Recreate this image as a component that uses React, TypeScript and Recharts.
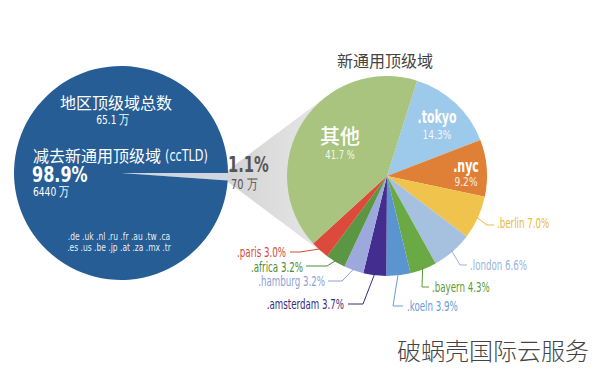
import React from 'react';
import { PieChart, Pie, Cell } from 'recharts';

// 地区顶级域 vs 新通用顶级域
const cctldNames = ['新通用顶级域', 'ccTLD'];
const cctldShares = [1.1, 98.9];
const cctldColors = ['#cfd6de', '#265d95'];

// 新通用顶级域 breakdown, clockwise from .tokyo
const gtldNames = ['.tokyo', '.nyc', '.berlin', '.london', '.bayern', '.koeln', '.amsterdam', '.hamburg', '.africa', '.paris', '其他'];
const gtldShares = [14.3, 9.2, 7.0, 6.6, 4.3, 3.9, 3.7, 3.2, 3.2, 3.0, 41.7];
const gtldColors = ['#9dc9ea', '#e07f36', '#f0c44c', '#a6c0e0', '#6aa943', '#5b95cf', '#432d8e', '#9da9dc', '#5b9643', '#db4a3b', '#a8c47e'];
const gtldLabelColors = ['#fff', '#fff', '#e8b93a', '#9ab5dd', '#5a9a35', '#6a9bd5', '#3a2a80', '#8e9ed6', '#4e8a37', '#d84838', '#fff'];

const domainLines = ['.de .uk .nl .ru .fr .au .tw .ca', '.es .us .be .jp .at .za .mx .tr'];

const W = 600;
const H = 369;
const LEFT = { cx: 121, cy: 173, r: 107 };
const RIGHT = { cx: 387, cy: 176, r: 100 };
const RADIAN = Math.PI / 180;
const FONT = '"DejaVu Sans Condensed", "DejaVu Sans", sans-serif';
const CJK = '"Noto Sans CJK SC", sans-serif';

const cctldData = cctldNames.map((name, i) => ({ name, value: cctldShares[i] }));
const gtldData = gtldNames.map((name, i) => ({ name, value: gtldShares[i] }));

// narrow text: the source uses a condensed face, squeeze horizontally
function NText({ x, y, size, fill, anchor = 'start', weight = 400, sx = 0.78, family = FONT, opacity = 1, children }: any) {
  return (
    <text
      transform={`translate(${x} ${y}) scale(${sx} 1)`}
      textAnchor={anchor}
      dominantBaseline="central"
      fontSize={size}
      fontWeight={weight}
      fill={fill}
      fillOpacity={opacity}
      fontFamily={family}
    >
      {children}
    </text>
  );
}

// label placement
const inside: Record<string, { x: number; y: number; sy: number; big: number; small: number }> = {
  '其他': { x: 340, y: 135, sy: 155, big: 20, small: 12 },
  '.tokyo': { x: 437, y: 117, sy: 135, big: 17, small: 13 },
  '.nyc': { x: 466, y: 166, sy: 182, big: 17, small: 13 },
};
const outside: Record<string, { elbow: [number, number]; end: [number, number]; tx: number; ty: number; anchor: 'start' | 'end' }> = {
  '.berlin': { elbow: [487, 225], end: [494, 225], tx: 497, ty: 223, anchor: 'start' },
  '.london': { elbow: [460, 265], end: [467, 265], tx: 470, ty: 265, anchor: 'start' },
  '.bayern': { elbow: [422, 287], end: [429, 287], tx: 432, ty: 287, anchor: 'start' },
  '.koeln': { elbow: [393, 306], end: [403, 306], tx: 407, ty: 306, anchor: 'start' },
  '.amsterdam': { elbow: [363, 304], end: [348, 304], tx: 344, ty: 304, anchor: 'end' },
  '.hamburg': { elbow: [342, 281], end: [328, 281], tx: 325, ty: 281, anchor: 'end' },
  '.africa': { elbow: [327, 266], end: [306, 266], tx: 303, ty: 267, anchor: 'end' },
  '.paris': { elbow: [300, 252], end: [290, 252], tx: 286, ty: 252, anchor: 'end' },
};

const pct = (v: number, name: string) => (name === '其他' ? `${v.toFixed(1)} %` : `${v.toFixed(1)}%`);

const renderGtldLabel = (props: any) => {
  const { cx, cy, midAngle, outerRadius, index } = props;
  const name = gtldNames[index];
  const value = gtldShares[index];
  const color = gtldLabelColors[index];
  const inn = inside[name];
  if (inn) {
    return (
      <g key={name}>
        {name === '其他' ? (
          <text x={inn.x} y={inn.y} fill="#fff" textAnchor="middle" dominantBaseline="central" fontSize={inn.big} fontFamily={CJK} fontWeight={500}>
            {name}
          </text>
        ) : (
          <NText x={inn.x} y={inn.y} size={inn.big} fill="#fff" anchor="middle" weight={700} sx={0.72}>
            {name}
          </NText>
        )}
        <NText x={inn.x} y={inn.sy} size={inn.small} fill="#fff" anchor="middle" opacity={0.9}>
          {pct(value, name)}
        </NText>
      </g>
    );
  }
  const o = outside[name];
  const r = outerRadius - 2;
  const sx = cx + r * Math.cos(-midAngle * RADIAN);
  const sy = cy + r * Math.sin(-midAngle * RADIAN);
  return (
    <g key={name}>
      <polyline points={`${sx},${sy} ${o.elbow[0]},${o.elbow[1]} ${o.end[0]},${o.end[1]}`} fill="none" stroke={color} strokeWidth={1} />
      <NText x={o.tx} y={o.ty} size={14} fill={color} anchor={o.anchor} sx={0.69}>
        {`${name} ${pct(value, name)}`}
      </NText>
    </g>
  );
};

function Funnel() {
  // apex where the 1.1% wedge leaves the blue circle, tangents to the right pie
  const ax = LEFT.cx + LEFT.r - 8;
  const ay = LEFT.cy + 3;
  const dx = RIGHT.cx - ax;
  const dy = RIGHT.cy - ay;
  const d = Math.sqrt(dx * dx + dy * dy);
  const base = Math.atan2(ay - RIGHT.cy, ax - RIGHT.cx);
  const t = Math.acos(RIGHT.r / d);
  const p1 = [RIGHT.cx + RIGHT.r * Math.cos(base - t), RIGHT.cy + RIGHT.r * Math.sin(base - t)];
  const p2 = [RIGHT.cx + RIGHT.r * Math.cos(base + t), RIGHT.cy + RIGHT.r * Math.sin(base + t)];
  return (
    <svg width={W} height={H} style={{ position: 'absolute', left: 0, top: 0 }}>
      <defs>
        <linearGradient id="fun" x1="0" y1="0" x2="1" y2="0">
          <stop offset="0%" stopColor="#d2d2d2" />
          <stop offset="100%" stopColor="#f3f3f3" />
        </linearGradient>
      </defs>
      <polygon points={`${ax},${ay} ${p1[0]},${p1[1]} ${RIGHT.cx},${RIGHT.cy} ${p2[0]},${p2[1]}`} fill="url(#fun)" />
    </svg>
  );
}

function Overlay() {
  return (
    <svg width={W} height={H} style={{ position: 'absolute', left: 0, top: 0, pointerEvents: 'none' }}>
      <text x={116} y={102} fill="#fff" textAnchor="middle" dominantBaseline="central" fontSize={16} fontFamily={CJK}>地区顶级域总数</text>
      <NText x={113} y={120} size={13} fill="#fff" anchor="middle">65.1 万</NText>
      <text x={33} y={155} fill="#fff" dominantBaseline="central" fontSize={16} fontFamily={CJK}>减去新通用顶级域</text>
      <NText x={165} y={155} size={16} fill="#fff">(ccTLD)</NText>
      <NText x={32} y={175} size={21} fill="#fff" weight={700} sx={0.85}>98.9%</NText>
      <NText x={33} y={192} size={13} fill="#fff">6440 万</NText>
      {domainLines.map((l, i) => (
        <NText key={l} x={119} y={236 + i * 11} size={10.5} fill="#fff" anchor="middle" opacity={0.92} sx={0.8}>
          {l}
        </NText>
      ))}
      <NText x={228} y={165} size={21} fill="#555" weight={700} sx={0.78}>1.1%</NText>
      <NText x={231} y={184} size={14} fill="#555">70 万</NText>
      <text x={385} y={60} textAnchor="middle" dominantBaseline="central" fontSize={16} fill="#444" fontFamily={CJK}>新通用顶级域</text>
      <text x={493} y={349} textAnchor="middle" dominantBaseline="central" fontSize={24} fontWeight={300} fill="#444" fontFamily={CJK}>破蜗壳国际云服务</text>
    </svg>
  );
}

export default function App() {
  const wedgeMid = -2;
  const half = (cctldShares[0] / 100) * 180;
  return (
    <div style={{ position: 'absolute', left: 0, top: 0, width: W, height: H, background: '#fff', overflow: 'hidden' }}>
      <Funnel />
      <div style={{ position: 'absolute', left: 0, top: 0 }}>
        <PieChart width={W} height={H} margin={{ top: 0, right: 0, bottom: 0, left: 0 }}>
          <Pie
            data={cctldData}
            dataKey="value"
            cx={LEFT.cx}
            cy={LEFT.cy}
            outerRadius={LEFT.r}
            startAngle={wedgeMid - half}
            endAngle={wedgeMid - half + 360}
            stroke="none"
            isAnimationActive={false}
          >
            {cctldData.map((d, i) => (
              <Cell key={d.name} fill={cctldColors[i]} />
            ))}
          </Pie>
          <Pie
            data={gtldData}
            dataKey="value"
            cx={RIGHT.cx}
            cy={RIGHT.cy}
            outerRadius={RIGHT.r}
            startAngle={72.5}
            endAngle={72.5 - 360}
            stroke="none"
            label={renderGtldLabel}
            labelLine={false}
            isAnimationActive={false}
          >
            {gtldData.map((d, i) => (
              <Cell key={d.name} fill={gtldColors[i]} />
            ))}
          </Pie>
        </PieChart>
      </div>
      <Overlay />
    </div>
  );
}
